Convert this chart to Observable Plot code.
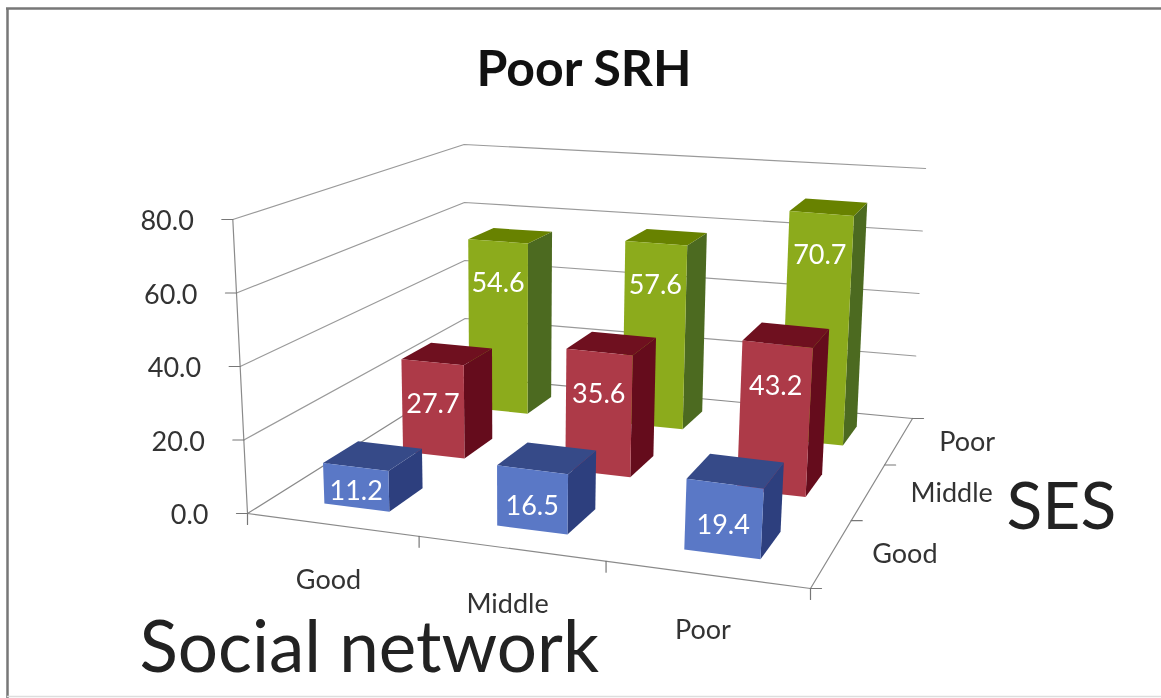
<!DOCTYPE html>
<html>
<head>
<meta charset="utf-8">
<script src="https://cdn.jsdelivr.net/npm/d3@7"></script>
<script src="https://cdn.jsdelivr.net/npm/@observablehq/plot@0.6"></script>
<style>
html,body{margin:0;padding:0;background:#fff;overflow:hidden}
svg{display:block;filter:blur(0.4px)}
</style>
</head>
<body>
<div id="chart"></div>
<script>
// ---------- data ----------
const socialNetwork = ["Good", "Middle", "Poor"];
const ses = ["Good", "Middle", "Poor"];
const sesGood   = [11.2, 16.5, 19.4];
const sesMiddle = [27.7, 35.6, 43.2];
const sesPoor   = [54.6, 57.6, 70.7];
const valueTicks = [0, 20, 40, 60, 80];
const faceColors = {
  Good:   {front: "#5a78c6", side: "#2d3f7e", top: "#364a88"},
  Middle: {front: "#ad3a48", side: "#650c1c", top: "#6f101f"},
  Poor:   {front: "#8cab1c", side: "#4c6a20", top: "#688200"}
};

// ---------- the picture's 3-D view: corners of the floor and of the ceiling ----------
const floorQuad = [[247,513],[810,588],[912,418],[465,376]]; // front-left, front-right, back-right, back-left
const topQuad   = [[232,219],[827,297],[925,168],[467,144]];
const maxValue = 80;
function homography(q){
  const [[x0,y0],[x1,y1],[x2,y2],[x3,y3]] = q;
  const dx1=x1-x2, dx2=x3-x2, sx=x0-x1+x2-x3;
  const dy1=y1-y2, dy2=y3-y2, sy=y0-y1+y2-y3;
  const den=dx1*dy2-dx2*dy1;
  const g=(sx*dy2-dx2*sy)/den, h=(dx1*sy-sx*dy1)/den;
  const a=x1-x0+g*x1, b=x3-x0+h*x3, d=y1-y0+g*y1, e=y3-y0+h*y3;
  return (u,v)=>{const w=g*u+h*v+1;return [(a*u+b*v+x0)/w,(d*u+e*v+y0)/w];};
}
const floorH = homography(floorQuad), topH = homography(topQuad);
function project(u,v,val){
  const uu=u+0.075*v*u*(1-u);
  const f=floorH(uu,v), t=topH(uu,v), k=val/maxValue;
  const y=f[1]+(t[1]-f[1])*k;
  const lean=0.00019-0.00006*v;
  return [f[0]+(f[0]-510)*lean*(f[1]-y), y];
}

// ---------- derived mark tables ----------
const barU = 0.385, barV = 0.42;        // bar footprint as a share of its cell
const rows = [["Poor",sesPoor,2],["Middle",sesMiddle,1],["Good",sesGood,0]];
const faces = [], labels = [];
let id = 0;
for (const [name,vals,r] of rows) {
  vals.forEach((val,c)=>{
    const u0=(c+.5-barU/2)/3,u1=(c+.5+barU/2)/3,v0=(r+.5-barV/2)/3,v1=(r+.5+barV/2)/3;
    const col=faceColors[name];
    const poly=(fill,pts)=>{id++;pts.forEach(p=>{const [x,y]=project(...p);faces.push({x,y,id,fill});});};
    poly(col.side,[[u1,v0,0],[u1,v1,0],[u1,v1,val],[u1,v0,val]]);
    poly(col.top,[[u0,v0,val],[u1,v0,val],[u1,v1,val],[u0,v1,val]]);
    poly(col.front,[[u0,v0,0],[u1,v0,0],[u1,v0,val],[u0,v0,val]]);
    const um=(u0+u1)/2;
    const [xt,yt]=project(um,v0,val), [xb,yb]=project(um,v0,0);
    const drop=Math.min(42,0.6*(yb-yt));
    labels.push({x:xt+(xb-xt)*drop/(yb-yt),y:yt+drop,text:val.toFixed(1)});
  });
}
const grid=[];
valueTicks.forEach(t=>{
  if(t>0){[[0,0],[0,1],[1,1]].forEach(([u,v])=>{const [x,y]=project(u,v,t);grid.push({x,y,t:"w"+t});});}
});
const axes=[];
const seg=(key,a,b)=>{[a,b].forEach(p=>{const [x,y]=project(...p);axes.push({x,y,key});});};
seg("vert",[0,0,0],[0,0,maxValue]);
seg("floorFront",[0,0,0],[1,0,0]);
seg("floorRight",[1,0,0],[1,1,0]);
seg("floorLeft",[0,0,0],[0,1,0]);
seg("floorBack",[0,1,0],[1,1,0]);
const tickLen = 11;
const ticks=[];
const tickSeg=(key,p,dx,dy)=>{const [x,y]=project(...p);ticks.push({x,y,key});ticks.push({x:x+dx,y:y+dy,key});};
valueTicks.forEach(t=>tickSeg("v"+t,[0,0,t],-tickLen,0));
[0,1,2,3].forEach(i=>tickSeg("x"+i,[i/3,0,0],0,tickLen));
[0,1,2,3].forEach(i=>tickSeg("y"+i,[1,i/3,0],tickLen,0));
const valueLabels=valueTicks.map(t=>{const [x,y]=project(0,0,t);return {x:x-39,y:y+2,text:t.toFixed(1)};});
const xLabels=socialNetwork.map((s,i)=>{const [x,y]=project((i+.5)/3,0,0);return {x:x-3,y:y+56,text:s};});
const sesLabelGap=[73,83,68];
const yLabels=ses.map((s,i)=>{const [x,y]=project(1,(i+.5)/3,0);return {x:x+sesLabelGap[i],y:y+2,text:s};});

// ---------- plot ----------
const font="Lato";
const plot=Plot.plot({
  width:1161,height:698,
  margin:0,
  style:{fontFamily:font,background:"#fff"},
  x:{domain:[0,1161],range:[0,1161],axis:null},
  y:{domain:[0,698],range:[0,698],axis:null},
  color:{type:"identity"},
  marks:[
    Plot.line(grid,{x:"x",y:"y",z:"t",stroke:"#9a9a9a",strokeWidth:1.2}),
    Plot.line(axes,{x:"x",y:"y",z:"key",stroke:"#8a8a8a",strokeWidth:1.2}),
    Plot.line(ticks,{x:"x",y:"y",z:"key",stroke:"#777",strokeWidth:1.2}),
    Plot.line(faces,{x:"x",y:"y",z:"id",fill:"fill",stroke:"none"}),
    Plot.text(labels,{x:"x",y:"y",text:"text",fill:"#fff",fontSize:27}),
    Plot.text(valueLabels,{x:"x",y:"y",text:"text",textAnchor:"end",fill:"#333",fontSize:27}),
    Plot.text(xLabels,{x:"x",y:"y",text:"text",fill:"#333",fontSize:27}),
    Plot.text(yLabels,{x:"x",y:"y",text:"text",fill:"#333",fontSize:27}),
    Plot.text(["Poor SRH"],{frameAnchor:"top",dy:50,text:d=>d,fontSize:50,fontWeight:700,fill:"#111",dx:3}),
    Plot.text(["Social network"],{frameAnchor:"bottom-left",dx:139,dy:-27,text:d=>d,fontSize:71,fill:"#222",textAnchor:"start"}),
    Plot.text(["SES"],{frameAnchor:"top-left",dx:1006,dy:482,text:d=>d,fontSize:66,fill:"#222",textAnchor:"start",lineAnchor:"top"}),
    Plot.ruleY([8],{x1:6,x2:1161,stroke:"#777",strokeWidth:2.5}),
    Plot.ruleX([7],{y1:8,y2:698,stroke:"#777",strokeWidth:2.5}),
    Plot.ruleY([696],{x1:7,x2:1161,stroke:"#ddd",strokeWidth:1.5})
  ]
});
document.getElementById("chart").appendChild(plot);
</script>
</body>
</html>
